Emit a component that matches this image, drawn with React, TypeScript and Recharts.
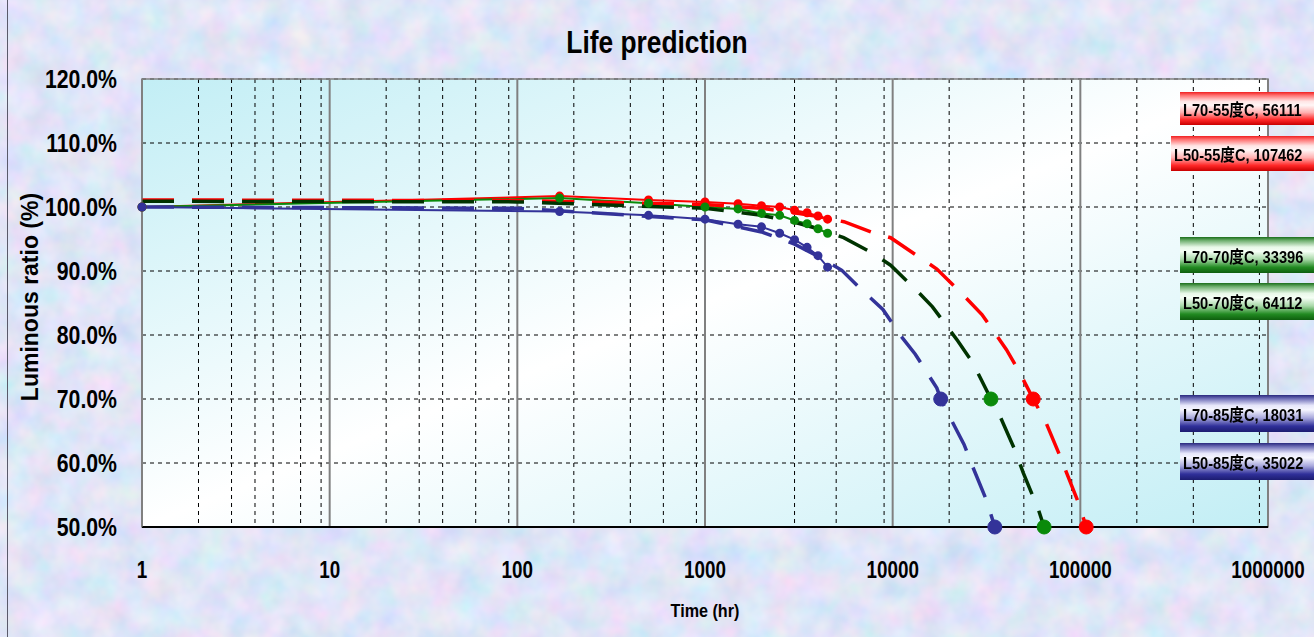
import React from "react";
import { ComposedChart, Line, XAxis, YAxis, CartesianGrid, ReferenceArea } from "recharts";

document.body.style.margin = "0";

const FONT = "'Liberation Sans', Arial, 'Noto Sans CJK SC', sans-serif";

// axis ticks
const X_TICKS = [1, 10, 100, 1000, 10000, 100000, 1000000];
const X_MINOR = X_TICKS.slice(0, -1).flatMap((d) => [2, 3, 4, 5, 6, 7, 8, 9].map((k) => k * d));
const Y_TICKS = [50, 60, 70, 80, 90, 100, 110, 120];

// measured luminous ratio (%)
const MEAS_T = [1, 168, 500, 1000, 1500, 2000, 2500, 3000, 3500, 4000, 4500];
const MEAS_55 = [100, 101.7, 101.1, 100.8, 100.5, 100.2, 100.0, 99.5, 99.1, 98.6, 98.1];
const MEAS_70 = [100, 101.4, 100.6, 100.0, 99.7, 99.0, 98.7, 97.9, 97.4, 96.6, 95.9];
const MEAS_85 = [100, 99.3, 98.7, 98.1, 97.3, 96.9, 95.9, 94.9, 93.7, 92.4, 90.6];

// prediction curves
const FIT_55_T = [1, 100, 1000, 2000, 3000, 4000, 5500, 7800, 9750, 13800, 17200, 24000, 29900, 40400, 46600, 56111, 65400, 77100, 84400, 98600, 107462];
const FIT_55 = [101.1, 101.0, 100.4, 99.8, 99.1, 98.5, 97.7, 96.0, 95.2, 92.2, 90.3, 86.1, 83.2, 77.7, 74.6, 70.0, 66.4, 61.4, 58.5, 53.5, 50.0];
const FIT_70_T = [1, 100, 1000, 2000, 3000, 4000, 5480, 7800, 9750, 13500, 16300, 22200, 26800, 33396, 37600, 45000, 49600, 59800, 64112];
const FIT_70 = [100.9, 100.8, 99.8, 98.7, 97.6, 96.6, 95.2, 92.8, 90.9, 86.9, 84.4, 79.1, 75.6, 70.0, 67.1, 61.9, 58.5, 52.7, 50.0];
const FIT_85_T = [1, 100, 1000, 2000, 3000, 4000, 5360, 7100, 8870, 11100, 13200, 17200, 18031, 19500, 24000, 26800, 31700, 35022];
const FIT_85 = [100.0, 99.8, 98.0, 96.1, 94.2, 92.3, 90.1, 86.6, 84.0, 79.8, 77.0, 71.7, 70.0, 68.0, 62.9, 59.3, 54.1, 50.0];

// L70 / L50 life points (hours)
const LIFE_LEVELS = [70, 50];
const LIFE_55 = [56111, 107462];
const LIFE_70 = [33396, 64112];
const LIFE_85 = [18031, 35022];

const LABELS = [
  { text: "L70-55度C, 56111", kind: "red", left: 1180, top: 92, h: 33 },
  { text: "L50-55度C, 107462", kind: "red", left: 1171, top: 136, h: 35 },
  { text: "L70-70度C, 33396", kind: "green", left: 1180, top: 237, h: 36 },
  { text: "L50-70度C, 64112", kind: "green", left: 1180, top: 283, h: 37 },
  { text: "L70-85度C, 18031", kind: "blue", left: 1180, top: 395, h: 37 },
  { text: "L50-85度C, 35022", kind: "blue", left: 1180, top: 443, h: 37 },
];

const GRADS: Record<string, string> = {
  red: "linear-gradient(to bottom, #f02020 0%, #ff7070 10%, #ffe4e4 28%, #fff6f6 40%, #ffb0b0 62%, #ff2828 84%, #c80000 100%)",
  green: "linear-gradient(to bottom, #1a6e1a 0%, #70b070 10%, #e8f8e8 28%, #f6fff6 40%, #a8d8a8 62%, #228b22 84%, #0e5e0e 100%)",
  blue: "linear-gradient(to bottom, #28287e 0%, #7070b8 10%, #e6e6fa 28%, #f6f6ff 40%, #a8a8dc 62%, #30309a 84%, #1c1c70 100%)",
};

const RED = "#ff0000";
const GREEN = "#0a8a0a";
const DARK_GREEN = "#003300";
const BLUE = "#333399";

const pts = (t: number[], v: number[]) => t.map((x, i) => ({ t: x, v: v[i] }));

const XTick = ({ x, y, payload }: any) => (
  <text
    transform={`translate(${x},${y + 51}) scale(0.82,1)`}
    textAnchor="middle"
    fontSize={23}
    fontWeight="bold"
    fontFamily={FONT}
    fill="#000"
  >
    {payload.value}
  </text>
);

const YTick = ({ x, y, payload }: any) => (
  <text
    transform={`translate(${x - 25},${y}) scale(0.85,1)`}
    textAnchor="end"
    dy="0.36em"
    fontSize={25}
    fontWeight="bold"
    fontFamily={FONT}
    fill="#000"
  >
    {Number(payload.value).toFixed(1)}%
  </text>
);

export default function App() {
  return (
    <div
      style={{
        position: "relative",
        width: 1314,
        height: 637,
        overflow: "hidden",
        background: "#bec9ee",
        fontFamily: FONT,
      }}
    >
      {/* mottled backdrop */}
      <svg width={1314} height={637} style={{ position: "absolute", left: 0, top: 0 }}>
        <defs>
          <filter id="paper" x="0" y="0" width="100%" height="100%">
            <feTurbulence type="fractalNoise" baseFrequency="0.035" numOctaves={3} seed={7} />
            <feColorMatrix
              type="matrix"
              values="0.45 0 0 0 0.52  0 0.25 0 0 0.66  0 0 0.18 0 0.84  0 0 0 0 1"
            />
          </filter>
        </defs>
        <rect width={1314} height={637} filter="url(#paper)" />
      </svg>
      <div style={{ position: "absolute", left: 7, top: 0, width: 1, height: 637, background: "#5a5a6a" }} />
      <ComposedChart
        width={1314}
        height={637}
        margin={{ top: 79, right: 46, bottom: 0, left: 0 }}
        style={{ position: "absolute", left: 0, top: 0 }}
      >
        <defs>
          <linearGradient id="plotBg" x1="0" y1="0" x2="1" y2="1">
            <stop offset="0%" stopColor="#c2eef5" />
            <stop offset="50%" stopColor="#ffffff" />
            <stop offset="100%" stopColor="#c2eef5" />
          </linearGradient>
        </defs>
        <CartesianGrid
          fill="url(#plotBg)"
          fillOpacity={1}
          vertical={false}
          stroke="#000"
          strokeDasharray="4 4"
        />
        <CartesianGrid
          horizontal={false}
          verticalValues={X_MINOR}
          stroke="#000"
          strokeDasharray="4 4"
        />
        <CartesianGrid
          horizontal={false}
          verticalValues={X_TICKS}
          stroke="#808080"
          strokeWidth={2}
        />
        <XAxis
          dataKey="t"
          type="number"
          scale="log"
          domain={[1, 1000000]}
          ticks={X_TICKS}
          height={110}
          tickSize={0}
          tickMargin={0}
          tick={<XTick />}
          axisLine={{ stroke: "#000", strokeWidth: 2 }}
          tickLine={false}
        />
        <YAxis
          dataKey="v"
          type="number"
          domain={[50, 120]}
          ticks={Y_TICKS}
          width={142}
          tickSize={0}
          tickMargin={0}
          tick={<YTick />}
          axisLine={{ stroke: "#808080" }}
          tickLine={false}
        />
        <ReferenceArea x1={1} x2={1000000} y1={50} y2={120} fill="none" stroke="#808080" strokeWidth={1.5} />

        <Line data={pts(MEAS_T, MEAS_55)} dataKey="v" stroke={RED} strokeWidth={2} dot={{ r: 3.5, fill: RED, stroke: RED }} activeDot={false} isAnimationActive={false} />
        <Line data={pts(MEAS_T, MEAS_70)} dataKey="v" stroke={GREEN} strokeWidth={2} dot={{ r: 3.5, fill: GREEN, stroke: GREEN }} activeDot={false} isAnimationActive={false} />
        <Line data={pts(MEAS_T, MEAS_85)} dataKey="v" stroke={BLUE} strokeWidth={2} dot={{ r: 3.5, fill: BLUE, stroke: BLUE }} activeDot={false} isAnimationActive={false} />

        <Line data={pts(FIT_55_T, FIT_55)} dataKey="v" stroke={RED} strokeWidth={3.5} strokeDasharray="32 18" dot={false} activeDot={false} isAnimationActive={false} />
        <Line data={pts(FIT_70_T, FIT_70)} dataKey="v" stroke={DARK_GREEN} strokeWidth={3.5} strokeDasharray="32 18" dot={false} activeDot={false} isAnimationActive={false} />
        <Line data={pts(FIT_85_T, FIT_85)} dataKey="v" stroke={BLUE} strokeWidth={3.5} strokeDasharray="32 18" dot={false} activeDot={false} isAnimationActive={false} />

        <Line data={pts(LIFE_55, LIFE_LEVELS)} dataKey="v" stroke="none" dot={{ r: 7, fill: RED, stroke: RED }} activeDot={false} isAnimationActive={false} />
        <Line data={pts(LIFE_70, LIFE_LEVELS)} dataKey="v" stroke="none" dot={{ r: 7, fill: GREEN, stroke: GREEN }} activeDot={false} isAnimationActive={false} />
        <Line data={pts(LIFE_85, LIFE_LEVELS)} dataKey="v" stroke="none" dot={{ r: 7, fill: BLUE, stroke: BLUE }} activeDot={false} isAnimationActive={false} />
      </ComposedChart>

      <svg width={1314} height={637} style={{ position: "absolute", left: 0, top: 0, pointerEvents: "none" }}>
        <text transform="translate(657,53) scale(0.85,1)" textAnchor="middle" fontSize={31} fontWeight="bold" fontFamily={FONT} fill="#000">
          Life prediction
        </text>
        <text transform="translate(705,617) scale(0.85,1)" textAnchor="middle" fontSize={19} fontWeight="bold" fontFamily={FONT} fill="#000">
          Time (hr)
        </text>
        <text transform="translate(38,297) rotate(-90)" textAnchor="middle" fontSize={23} fontWeight="bold" fontFamily={FONT} fill="#000">
          Luminous ratio (%)
        </text>
      </svg>

      {LABELS.map((l) => (
        <div
          key={l.text}
          style={{
            position: "absolute",
            left: l.left,
            top: l.top,
            width: 1314 - l.left + 10,
            height: l.h,
            background: GRADS[l.kind],
            display: "flex",
            alignItems: "center",
            paddingLeft: 3,
            boxSizing: "border-box",
            fontSize: 17,
            fontWeight: "bold",
            color: "#000",
            whiteSpace: "nowrap",
          }}
        >
          <span style={{ display: "inline-block", transform: "scaleX(0.86)", transformOrigin: "left center" }}>{l.text}</span>
        </div>
      ))}
    </div>
  );
}
